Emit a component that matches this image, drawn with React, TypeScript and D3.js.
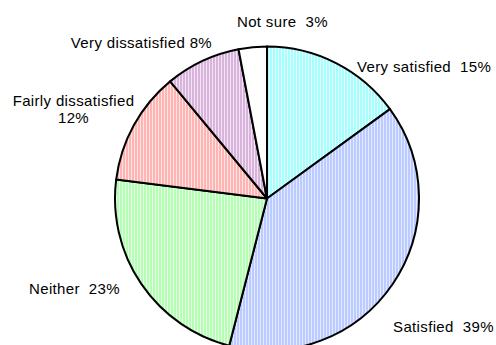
import React from "react";
import * as d3 from "d3";

const categories = ["Very satisfied", "Satisfied", "Neither", "Fairly dissatisfied", "Very dissatisfied", "Not sure"];
const values = [15, 39, 23, 12, 8, 3];
const labelLines = [
  ["Very satisfied\u00a0\u00a015%"],
  ["Satisfied\u00a0\u00a039%"],
  ["Neither\u00a0\u00a023%"],
  ["Fairly dissatisfied", "12%"],
  ["Very dissatisfied 8%"],
  ["Not sure\u00a0\u00a03%"],
];
// stripe colors [base, light]
const colors = [
  ["#a6ffff", "#e6ffff"],
  ["#bccbff", "#e4eaff"],
  ["#b4ffb4", "#e6ffe6"],
  ["#ffb4b4", "#ffe4e4"],
  ["#d8b4dc", "#f2e4f2"],
  ["#ffffff", "#ffffff"],
];
// label layout: [anchor, dx, dy] relative to point just outside the slice mid-angle
const labelLayout: [string, number, number][] = [
  ["start", 15.5, 19.6],
  ["start", -9.6, 41.3],
  ["end", -11.4, 3.3],
  ["middle", -49.8, -13.5],
  ["end", 14.9, -2.1],
  ["start", -14.6, -8.2],
];

const W = 496, H = 345;
const cx = 267, cy = 198.5, r = 152;

export default function App() {
  const pie = d3.pie<number>().sort(null).value((d) => d);
  const arcs = pie(values);
  const arc = d3.arc<d3.PieArcDatum<number>>().innerRadius(0).outerRadius(r);
  return (
    <svg width={W} height={H} style={{ position: "absolute", left: 0, top: 0, background: "#fff" }}>
      <defs>
        {colors.map((c, i) => (
          <pattern key={i} id={`p${i}`} width={3} height={3} patternUnits="userSpaceOnUse">
            <rect width={3} height={3} fill={c[0]} />
            <rect x={2} width={1} height={3} fill={c[1]} />
          </pattern>
        ))}
      </defs>
      <g transform={`translate(${cx},${cy})`}>
        {arcs.map((a, i) => (
          <path key={i} d={arc(a) || ""} fill={`url(#p${i})`} stroke="#000" strokeWidth={2} strokeLinejoin="round" />
        ))}
      </g>
      <g fontFamily="'Liberation Sans', Arial, sans-serif" fontSize={15} fill="#000" style={{ letterSpacing: "0.35px" }}>
        {arcs.map((a, i) => {
          const mid = (a.startAngle + a.endAngle) / 2;
          const R = r + 12;
          const x = cx + R * Math.sin(mid) + labelLayout[i][1];
          const y = cy - R * Math.cos(mid) + labelLayout[i][2];
          return (
            <text key={i} x={x} y={y} textAnchor={labelLayout[i][0]}>
              {labelLines[i].map((l, j) => (
                <tspan key={j} x={x} dy={j === 0 ? 0 : 17}>{l}</tspan>
              ))}
            </text>
          );
        })}
      </g>
    </svg>
  );
}
